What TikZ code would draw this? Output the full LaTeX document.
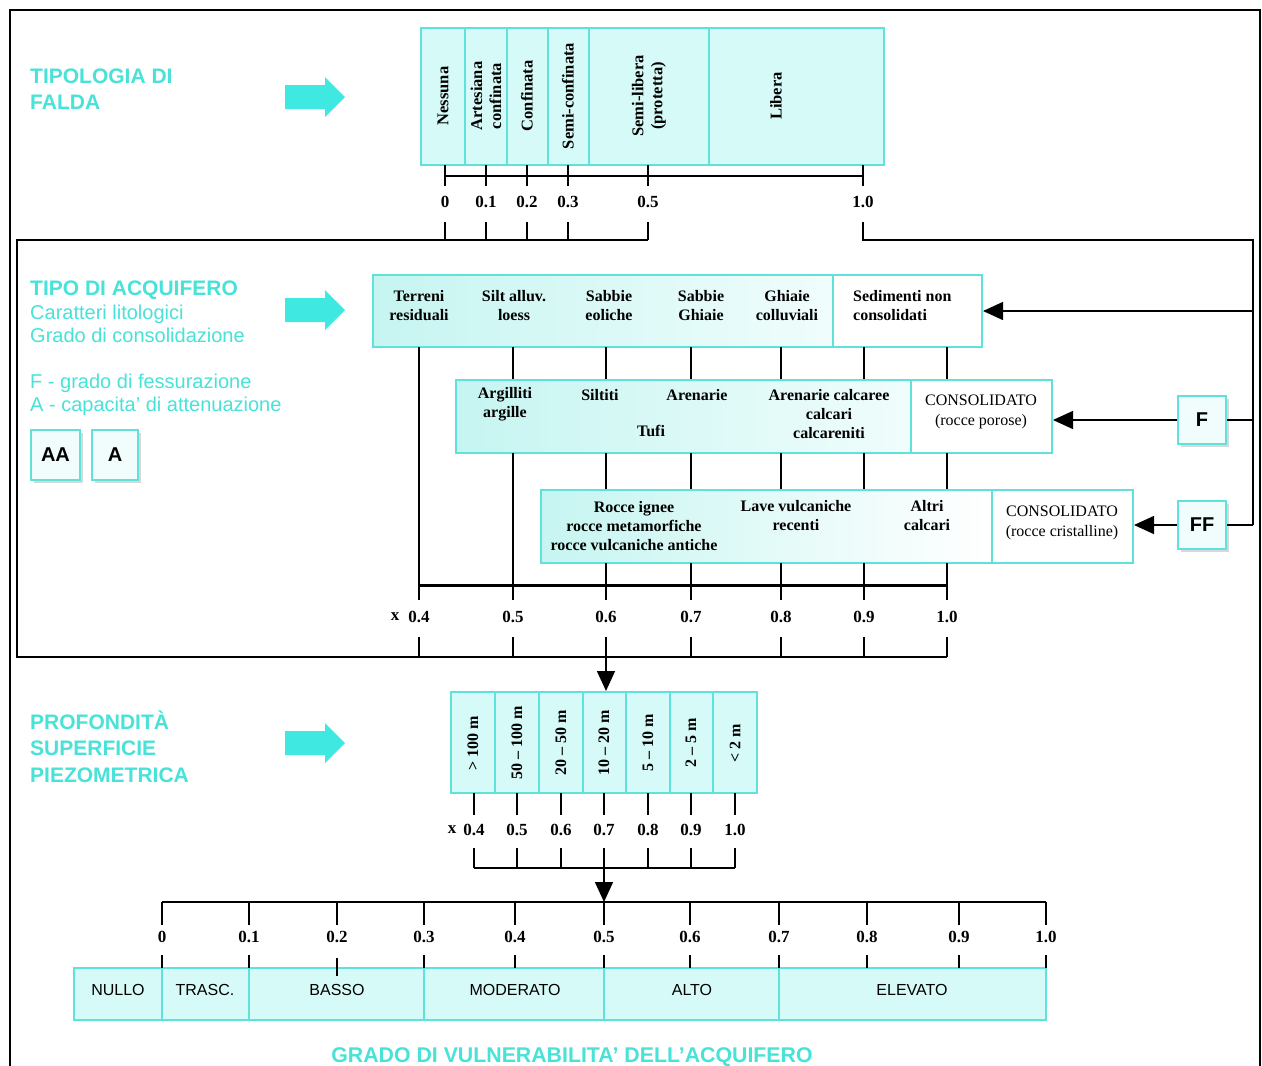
\documentclass[tikz,border=0pt]{standalone}
\usepackage{fontspec}
\setmainfont{Liberation Serif}
\setsansfont{Liberation Sans}
\usetikzlibrary{arrows.meta,shadows,calc}
\definecolor{cyanline}{RGB}{96,226,220}
\definecolor{cyanfill}{RGB}{214,250,247}
\definecolor{cyanfillD}{RGB}{198,245,241}
\definecolor{cyanfillL}{RGB}{240,253,252}
\definecolor{cyantext}{RGB}{72,226,216}
\definecolor{cyanarrow}{RGB}{64,232,226}
\begin{document}
\begin{tikzpicture}[x=1pt,y=-1pt,
  lbl/.style={font=\fontsize{16}{19}\selectfont\bfseries, align=center, inner sep=0pt},
  lblr/.style={font=\fontsize{16}{20}\selectfont, align=center, inner sep=0pt},
  vlbl/.style={font=\fontsize{16.5}{19}\selectfont\bfseries, align=center, inner sep=0pt, rotate=90},
  num/.style={font=\fontsize{17}{19}\selectfont\bfseries, inner sep=0pt},
  tick/.style={line width=1.5pt, black},
  divl/.style={draw=cyanline, line width=1.5pt},
  boxo/.style={draw=cyanline, line width=2pt, inner sep=0pt},
  biga/.style={-{Triangle[width=18pt,length=20pt]}, line width=1.5pt},
  head/.style={text=cyantext, font=\sffamily\bfseries\fontsize{21}{25}\selectfont, anchor=base west, inner sep=0pt},
  subh/.style={text=cyantext, font=\sffamily\fontsize{20}{24}\selectfont, anchor=base west, inner sep=0pt},
  sqbox/.style={draw=cyanline, line width=2pt, fill=cyanfillL, minimum width=48pt, minimum height=48pt, inner sep=0pt, font=\sffamily\bfseries\fontsize{20}{24}\selectfont, drop shadow={opacity=0.3, shadow xshift=3pt, shadow yshift=-3pt}},
  cat/.style={font=\sffamily\fontsize{16}{19}\selectfont, inner sep=0pt},
  blockarr/.pic={\fill[cyanarrow] (0,-12) -- (40,-12) -- (40,-20) -- (60,0) -- (40,20) -- (40,12) -- (0,12) -- cycle;}
]
\useasboundingbox (0,0) rectangle (1262,1066);
\fill[white] (0,0) rectangle (1262,1066);
% frame
\draw[line width=1.5pt] (10,1080) -- (10,10) -- (1260,10) -- (1260,1080);

% ---------- left headings ----------
\node[head] (h1a) at (30,83) {TIPOLOGIA DI};
\node[head] (h1b) at (30,109) {FALDA};
\pic at (285,97) {blockarr};
\node[head] (h2a) at (30,295) {TIPO DI ACQUIFERO};
\node[subh] (h2b) at (30,319) {Caratteri litologici};
\node[subh] (h2c) at (30,342) {Grado di consolidazione};
\node[subh] (h2d) at (30,388) {F - grado di fessurazione};
\node[subh] (h2e) at (30,411) {A - capacita' di attenuazione};
\pic at (285,310) {blockarr};
\node[sqbox, minimum width=49pt, minimum height=50pt] (AA) at (55.5,455) {AA};
\node[sqbox, minimum width=46pt, minimum height=50pt] (A) at (115,455) {A};
\node[head] (h3a) at (30,729) {PROFONDITÀ};
\node[head] (h3b) at (30,755) {SUPERFICIE};
\node[head] (h3c) at (30,782) {PIEZOMETRICA};
\pic at (285,743) {blockarr};

% ---------- tipologia di falda ----------
\fill[cyanfill] (421,28) rectangle (884,165);
\foreach \x in {465,507,548,589,709} \draw[divl] (\x,28) -- (\x,165);
\node[boxo, minimum width=463pt, minimum height=137pt] (falda) at (652.5,96.5) {};
\node[vlbl] (t1) at (443,96) {Nessuna};
\node[vlbl] (t2) at (486,96) {Artesiana\\confinata};
\node[vlbl] (t3) at (527,96) {Confinata};
\node[vlbl] (t4) at (568,96) {Semi-confinata};
\node[vlbl] (t5) at (649,96) {Semi-libera\\(protetta)};
\node[vlbl] (t6) at (776,96) {Libera};
\foreach \x in {445,486,527,568,648,863} \draw[tick] (\x,165) -- (\x,186);
\draw[tick] (445,176) -- (863,176);
\foreach \x/\t in {445/0,486/0.1,527/0.2,568/0.3,648/0.5,863/1.0} \node[num] at (\x,202) {\t};
\foreach \x in {445,486,527,568,648} \draw[tick] (\x,222) -- (\x,240);
\coordinate (L1) at (17,240);
\coordinate (L2) at (17,657);
\coordinate (R1) at (1253,240);
\coordinate (R2) at (1253,525);
\draw[tick] (648,240) -- (L1) -- (L2) -- (947,657);
\draw[tick] (863,222) -- (863,240) -- (R1) -- (R2);

% ---------- tipo di acquifero: box 1 ----------
\fill[left color=cyanfillD, right color=cyanfillL] (373,275) rectangle (833,347);
\draw[divl] (833,275) -- (833,347);
\node[boxo, minimum width=609pt, minimum height=72pt] (acq) at (677.5,311) {};
\node[lbl] at (419,305.5) {Terreni\\residuali};
\node[lbl] at (514,305.5) {Silt alluv.\\loess};
\node[lbl] at (609,305.5) {Sabbie\\eoliche};
\node[lbl] at (701,305.5) {Sabbie\\Ghiaie};
\node[lbl] at (787,305.5) {Ghiaie\\colluviali};
\node[lbl, align=left, anchor=west] at (853,305.5) {Sedimenti non\\consolidati};
\draw[biga] (1253,311) -- (acq.east);
\foreach \x in {513,606,691,781,864,947} \draw[tick] (\x,347) -- (\x,380);
\draw[tick] (419,347) -- (419,600);

% ---------- box 2 ----------
\fill[left color=cyanfillD, right color=cyanfillL] (456,380) rectangle (911,453);
\draw[divl] (911,380) -- (911,453);
\node[boxo, minimum width=596pt, minimum height=73pt] (por) at (754,416.5) {};
\node[lbl] at (505,404.5) {Argilliti\\argille};
\node[lbl] at (600,395) {Siltiti};
\node[lbl] at (697,395) {Arenarie};
\node[lbl] at (651,431) {Tufi};
\node[lbl] at (829,414) {Arenarie calcaree\\calcari\\calcareniti};
\node[lblr] at (981,412) {CONSOLIDATO\\(rocce porose)};
\draw[tick] (513,453) -- (513,600);
\foreach \x in {606,691,781,864,947} \draw[tick] (\x,453) -- (\x,490);

% ---------- box 3 ----------
\fill[left color=cyanfillD, right color=white] (541,490) rectangle (992,563);
\draw[divl] (992,490) -- (992,563);
\node[boxo, minimum width=592pt, minimum height=73pt] (cri) at (837,526.5) {};
\node[lbl] at (634,526) {Rocce ignee\\rocce metamorfiche\\rocce vulcaniche antiche};
\node[lbl] at (796,516) {Lave vulcaniche\\recenti};
\node[lbl] at (927,516) {Altri\\calcari};
\node[lblr] at (1062,523) {CONSOLIDATO\\(rocce cristalline)};
\foreach \x in {606,691,781,864,947} \draw[tick] (\x,563) -- (\x,600);
\draw[line width=3pt] (419,585) -- (947,585);

% F / FF
\node[sqbox] (F) at (1202,420) {F};
\node[sqbox] (FF) at (1202,525) {FF};
\draw[tick] (1253,420) -- (F.east);
\draw[tick] (R2) -- (FF.east);
\draw[biga] (F.west) -- (F.west -| por.east);
\draw[biga] (FF.west) -- (FF.west -| cri.east);

% scale 0.4 - 1.0
\node[num] at (395,617) {x};
\foreach \x/\t in {419/0.4,513/0.5,606/0.6,691/0.7,781/0.8,864/0.9,947/1.0} {
  \node[num] at (\x,617) {\t};
  \draw[tick] (\x,637) -- (\x,657);
}
\coordinate (d6) at (606,657);

% ---------- profondita ----------
\fill[cyanfill] (451,692) rectangle (757,793);
\foreach \x in {495,539,583,626,670,713} \draw[divl] (\x,692) -- (\x,793);
\node[boxo, minimum width=306pt, minimum height=101pt] (depth) at (604,742.5) {};
\draw[biga] (d6) -- (d6 |- depth.north);
\foreach \x/\t in {473/{> 100 m},517/{50 -- 100 m},561/{20 -- 50 m},604/{10 -- 20 m},648/{5 -- 10 m},691/{2 -- 5 m},735/{< 2 m}}
  \node[vlbl, font=\fontsize{16}{19}\selectfont\bfseries] at (\x,743) {\t};
\node[num] at (452,830) {x};
\foreach \x/\t in {474/0.4,517/0.5,561/0.6,604/0.7,648/0.8,691/0.9,735/1.0} {
  \draw[tick] (\x,793) -- (\x,815);
  \node[num] at (\x,830) {\t};
  \draw[tick] (\x,848) -- (\x,868);
}
\draw[tick] (474,868) -- (735,868);
\coordinate (d7) at (604,868);

% ---------- grado di vulnerabilita ----------
\coordinate (s0) at (162,902);
\coordinate (s1) at (1046,902);
\draw[tick] (s0) -- (s1);
\draw[biga] (d7) -- (d7 |- s0);
\foreach \x/\t in {162/0,249/0.1,337/0.2,424/0.3,515/0.4,604/0.5,690/0.6,779/0.7,867/0.8,959/0.9,1046/1.0} {
  \draw[tick] (\x,902) -- (\x,925);
  \node[num] at (\x,937) {\t};
}
\fill[cyanfill] (74,968) rectangle (1046,1020);
\foreach \x in {162,249,424,604,779} \draw[divl] (\x,968) -- (\x,1020);
\node[boxo, minimum width=972pt, minimum height=52pt] (vuln) at (560,994) {};
\foreach \x in {162,249,424,515,604,690,779,867,959,1046} \draw[tick] (\x,955) -- (\x,968);
\draw[tick] (337,958) -- (337,976);
\node[cat] at (118,990) {NULLO};
\node[cat] at (205,990) {TRASC.};
\node[cat] at (337,990) {BASSO};
\node[cat] at (515,990) {MODERATO};
\node[cat] at (692,990) {ALTO};
\node[cat] at (912,990) {ELEVATO};
\node[head, anchor=base, font=\sffamily\bfseries\fontsize{21.3}{25}\selectfont] (title) at (572,1062) {GRADO DI VULNERABILITA' DELL'ACQUIFERO};
\end{tikzpicture}
\end{document}
